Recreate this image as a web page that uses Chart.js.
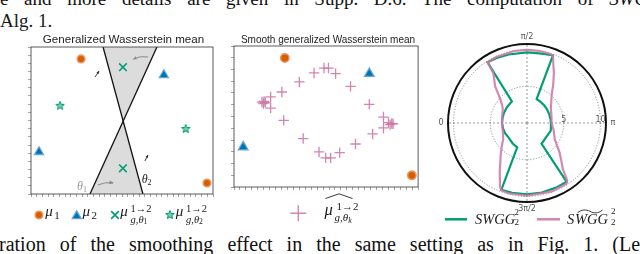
<!DOCTYPE html>
<html><head><meta charset="utf-8">
<script src="https://cdn.jsdelivr.net/npm/chart.js@4.4.1/dist/chart.umd.min.js"></script>
<style>
html,body{margin:0;padding:0;background:#fff;}
body{width:640px;height:254px;position:relative;overflow:hidden;}
.abs{position:absolute;white-space:nowrap;color:#1a1a1a;}
canvas{position:absolute;}
.just{position:absolute;font-family:'Liberation Serif','Times New Roman',serif;color:#111;text-align:justify;text-align-last:justify;white-space:normal;overflow:hidden;}
</style></head><body>
<canvas id="c1" width="200" height="190" style="left:20px;top:40px"></canvas>
<canvas id="c2" width="205" height="192" style="left:220px;top:38px"></canvas>
<canvas id="c3" width="200" height="200" style="left:427px;top:23px"></canvas>
<script>
// ================= DATA =================
// Panel 1 (data units: x 0-100, y 0-80)
const mu1A = [{x:27.5,y:73.5},{x:96.7,y:6.0}];
const mu2A = [{x:73.0,y:64.8},{x:4.4,y:22.9}];
const muTheta1 = [{x:50.5,y:69.0},{x:50.5,y:14.0}];
const muTheta2 = [{x:16.0,y:48.0},{x:85.0,y:35.4}];
const lineTheta1 = [{x:32.4,y:0},{x:69.2,y:80}];
const lineTheta2 = [{x:39.6,y:80},{x:61.5,y:0}];
const coneTop = [{x:39.6,y:80},{x:69.2,y:80},{x:50.6,y:40}];
const coneBottom = [{x:32.4,y:0},{x:61.5,y:0},{x:50.6,y:40}];
const rotArrows = [{from:{x:64.3,y:74.6},to:{x:56.0,y:73.4}},{from:{x:36.8,y:4.9},to:{x:45.0,y:6.0}}];
const dirMarks = [{from:{x:35.2,y:63.7},to:{x:37.4,y:66.9}},{from:{x:62.6,y:18.0},to:{x:64.3,y:21.2}}];
const thetaLabels = [{x:25.3,y:2.2,sub:'1',color:'#9a9a9a'},{x:60.8,y:6.0,sub:'2',color:'#222'}];

// Panel 2 (data units: x 0-100, y 0-80)
const mu1B = [{x:27.6,y:73.2},{x:96.6,y:6.6}];
const mu2B = [{x:73.5,y:64.3},{x:5.0,y:22.7}];
const smoothMeans = [
 {x:48.9,y:67.5},{x:51.3,y:67.5},{x:43.5,y:64.7},{x:55.2,y:64.3},{x:35.5,y:59.6},{x:63.3,y:57.1},
 {x:26.0,y:53.9},{x:19.9,y:51.1},{x:16.3,y:48.6},{x:17.0,y:47.9},{x:15.2,y:48.2},{x:16.0,y:47.3},
 {x:19.9,y:44.8},{x:73.5,y:46.9},{x:81.2,y:39.7},{x:83.9,y:36.5},{x:85.7,y:36.0},{x:84.8,y:35.4},
 {x:86.4,y:35.8},{x:81.2,y:33.5},{x:27.0,y:37.8},{x:75.3,y:30.1},{x:37.6,y:27.5},{x:66.0,y:24.4},
 {x:46.2,y:19.9},{x:57.4,y:19.5},{x:49.8,y:16.5},{x:52.5,y:16.5}
];

// Panel 3 (polar, angle in degrees, radius)
const polarTicks = [0,5,10,10.75];
const angleTickLabels = [[0,'0'],[90,'π/2'],[180,'π'],[270,'3π/2']];
const radialTickLabels = [5,10];
const swggDeg = [0,12,24,36,46,55,57,65,75,90,100,105,111,112,122,134,146,158,170,180,190,198,215,235,236,245,258,270,282,291,292,305,323,335,347];
const swggVal = [3.4,3.4,3.42,3.47,3.5,3.58,9.85,9.75,9.65,9.6,9.62,9.7,9.85,3.5,3.42,3.35,3.3,3.25,3.25,3.25,3.3,3.4,3.25,3.46,9.65,9.65,9.68,9.7,9.7,9.72,3.57,3.4,3.2,3.3,3.35];
const smoothDeg = [0,15,30,36,42,49,53,56,57,65,80,90,100,108,111,114,118,124,132,140,150,165,180,195,210,222,228,232,235,237,250,270,285,291,293,299,309,318,326,340,352];
const smoothVal = [3.4,3.5,3.8,4.2,4.9,6.6,7.4,8.2,9.85,9.9,9.95,9.95,9.95,9.9,9.85,8.8,7.8,6.4,5.0,4.3,3.75,3.45,3.35,3.75,4.35,5.95,7.0,7.9,9.5,9.85,9.9,9.9,9.9,9.8,9.4,7.65,5.7,4.6,3.9,3.5,3.4];

// ================= STYLE =================
const C = {orange:'#D55E00', orangeEdge:'rgba(238,150,95,0.95)', blue:'#0072B2', blueEdge:'rgba(95,165,215,0.95)', green:'#009E73', pink:'#CC79A7'};
const SERIF = "'Liberation Serif','Times New Roman',serif";
const SANS = "'Liberation Sans',Arial,sans-serif";

function makeStar(size){
  const c=document.createElement('canvas'); c.width=c.height=size;
  const g=c.getContext('2d'); g.beginPath();
  for(let i=0;i<10;i++){const a=-Math.PI/2+i*Math.PI/5;const rr=i%2?size*0.19:size*0.45;g.lineTo(size/2+rr*Math.cos(a),size/2+rr*Math.sin(a));}
  g.closePath(); g.fillStyle='rgba(90,195,160,0.85)'; g.fill(); g.strokeStyle=C.green; g.lineWidth=1; g.stroke();
  return c;
}
const star = makeStar(10);

const range = (n, step) => Array.from({length:n+1},(_,i)=>i*step);
function axisOpts(max, ticks){
  return {type:'linear', min:0, max:max,
    afterBuildTicks:s=>{s.ticks=ticks.map(v=>({value:v}));},
    ticks:{display:false},
    grid:{display:true, drawOnChartArea:false, drawTicks:true, tickLength:3, color:'#666', lineWidth:0.6},
    border:{display:false}};
}
const boxPlugin = {id:'box', afterDraw(chart){const {ctx,chartArea:a}=chart;ctx.save();ctx.strokeStyle='#333';ctx.lineWidth=0.8;ctx.strokeRect(a.left,a.top,a.right-a.left,a.bottom-a.top);ctx.restore();}};
function drawMarker(ctx,it){
  ctx.save(); ctx.fillStyle=it.fill||'rgba(0,0,0,0)'; ctx.strokeStyle=it.stroke||'rgba(0,0,0,0)'; ctx.lineWidth=it.bw||1;
  if (Chart.helpers && Chart.helpers.drawPoint) Chart.helpers.drawPoint(ctx,{pointStyle:it.style,radius:it.r,borderWidth:it.bw||0,rotation:0},it.x,it.y);
  ctx.restore();
}
function legendMarkers(items){return {id:'lm', afterDraw(chart){items.forEach(it=>drawMarker(chart.ctx,it));}};}
const baseOpts = {animation:false, responsive:false, events:[], plugins:{legend:{display:false},tooltip:{enabled:false}}};

// ---------- Panel 1 ----------
const p1Decor = {id:'p1Decor', afterDatasetsDraw(chart){
  const {ctx,scales:{x,y}}=chart; ctx.save();
  ctx.strokeStyle='#8a8a8a'; ctx.fillStyle='#8a8a8a'; ctx.lineWidth=1;
  rotArrows.forEach(a=>{
    const x0=x.getPixelForValue(a.from.x),y0=y.getPixelForValue(a.from.y),x1=x.getPixelForValue(a.to.x),y1=y.getPixelForValue(a.to.y);
    const mx=(x0+x1)/2,my=(y0+y1)/2-2.5;
    ctx.beginPath();ctx.moveTo(x0,y0);ctx.quadraticCurveTo(mx,my,x1,y1);ctx.stroke();
    const ang=Math.atan2(y1-my,x1-mx);
    ctx.beginPath();ctx.moveTo(x1+1,y1);ctx.lineTo(x1-4*Math.cos(ang-0.5),y1-4*Math.sin(ang-0.5));ctx.lineTo(x1-4*Math.cos(ang+0.5),y1-4*Math.sin(ang+0.5));ctx.closePath();ctx.fill();
  });
  ctx.strokeStyle='#222'; ctx.fillStyle='#222'; ctx.lineWidth=0.9;
  dirMarks.forEach(a=>{
    const x0=x.getPixelForValue(a.from.x),y0=y.getPixelForValue(a.from.y),x1=x.getPixelForValue(a.to.x),y1=y.getPixelForValue(a.to.y);
    ctx.beginPath();ctx.moveTo(x0,y0);ctx.lineTo(x1,y1);ctx.stroke();
    const ang=Math.atan2(y1-y0,x1-x0);
    ctx.beginPath();ctx.moveTo(x1,y1);ctx.lineTo(x1-3*Math.cos(ang-0.45),y1-3*Math.sin(ang-0.45));ctx.lineTo(x1-3*Math.cos(ang+0.45),y1-3*Math.sin(ang+0.45));ctx.closePath();ctx.fill();
  });
  thetaLabels.forEach(t=>{
    const px=x.getPixelForValue(t.x),py=y.getPixelForValue(t.y);
    ctx.fillStyle=t.color; ctx.textBaseline='alphabetic'; ctx.textAlign='left';
    ctx.font='italic 12px '+SERIF; ctx.fillText('θ',px,py);
    const w=ctx.measureText('θ').width;
    ctx.font='8px '+SERIF; ctx.fillText(t.sub,px+w,py+2);
  });
  ctx.restore();
}};
new Chart(document.getElementById('c1'),{
  type:'scatter',
  data:{datasets:[
    {type:'scatter',data:mu1A,pointStyle:'circle',pointRadius:3.8,pointBackgroundColor:C.orange,pointBorderColor:C.orangeEdge,pointBorderWidth:1.6,order:1},
    {type:'scatter',data:mu2A,pointStyle:'triangle',pointRadius:5.2,pointBackgroundColor:C.blue,pointBorderColor:C.blueEdge,pointBorderWidth:1.3,order:1},
    {type:'scatter',data:muTheta1,pointStyle:'crossRot',pointRadius:5.4,pointBorderColor:C.green,pointBorderWidth:1.6,order:1},
    {type:'scatter',data:muTheta2,pointStyle:star,pointRadius:5,order:1},
    {type:'line',data:lineTheta1,borderColor:'#111',borderWidth:1.3,pointRadius:0,fill:false,order:5},
    {type:'line',data:lineTheta2,borderColor:'#111',borderWidth:1.3,pointRadius:0,fill:false,order:5},
    {type:'line',data:coneTop,borderColor:'rgba(0,0,0,0)',borderWidth:0,backgroundColor:'#dcdcdc',fill:'shape',pointRadius:0,order:10},
    {type:'line',data:coneBottom,borderColor:'rgba(0,0,0,0)',borderWidth:0,backgroundColor:'#dcdcdc',fill:'shape',pointRadius:0,order:10}
  ]},
  options:Object.assign({},baseOpts,{layout:{padding:{left:8,top:7,right:7,bottom:33}},
    scales:{x:axisOpts(100,range(32,100/32)),y:axisOpts(80,range(18,80/18))}}),
  plugins:[p1Decor,boxPlugin,legendMarkers([
    {style:'circle',r:3.8,fill:C.orange,stroke:C.orangeEdge,bw:1.6,x:19,y:175},
    {style:'triangle',r:5.2,fill:C.blue,stroke:C.blueEdge,bw:1.3,x:56.7,y:176},
    {style:'crossRot',r:5.4,stroke:C.green,bw:1.6,x:95,y:175},
    {style:star,r:5,x:150,y:175}
  ])]
});

// ---------- Panel 2 ----------
new Chart(document.getElementById('c2'),{
  type:'scatter',
  data:{datasets:[
    {data:mu1B,pointStyle:'circle',pointRadius:4.2,pointBackgroundColor:C.orange,pointBorderColor:C.orangeEdge,pointBorderWidth:1.6,order:1},
    {data:mu2B,pointStyle:'triangle',pointRadius:5.6,pointBackgroundColor:C.blue,pointBorderColor:C.blueEdge,pointBorderWidth:1.3,order:1},
    {data:smoothMeans,pointStyle:'cross',pointRadius:5.2,pointBorderColor:'rgba(204,121,167,0.9)',pointBorderWidth:1.3,order:2}
  ]},
  options:Object.assign({},baseOpts,{layout:{padding:{left:11,top:8,right:5,bottom:40}},
    scales:{x:axisOpts(100,range(31,100/31)),y:axisOpts(80,range(12,80/12))}}),
  plugins:[boxPlugin,legendMarkers([{style:'cross',r:8,stroke:'rgba(204,121,167,0.9)',bw:1.4,x:78.3,y:175.3}])]
});

// ---------- Panel 3 (polar) ----------
const polarLabels = Array.from({length:360},(_,i)=>i);
function toSeries(deg,val){const a=new Array(360).fill(null);deg.forEach((d,i)=>{a[d]=val[i];});return a;}
const polarDecor = {id:'polarDecor', afterDraw(chart){
  const ctx=chart.ctx, r=chart.scales.r; ctx.save();
  ctx.fillStyle='#555'; ctx.font='8px "DejaVu Sans"'; ctx.textAlign='center'; ctx.textBaseline='middle';
  angleTickLabels.forEach(([i,t])=>{const p=r.getPointPosition(i,r.drawingArea+7);ctx.fillText(t,p.x,p.y);});
  ctx.textBaseline='bottom';
  radialTickLabels.forEach(v=>{const p=r.getPointPositionForValue(180,v);ctx.fillText(String(v),p.x,p.y+1);});
  ctx.lineWidth=2.5; ctx.lineCap='butt';
  ctx.strokeStyle=C.green; ctx.beginPath(); ctx.moveTo(18,196.3); ctx.lineTo(40,196.3); ctx.stroke();
  ctx.strokeStyle='rgba(204,121,167,0.9)'; ctx.beginPath(); ctx.moveTo(110,196.3); ctx.lineTo(133,196.3); ctx.stroke();
  ctx.restore();
}};
new Chart(document.getElementById('c3'),{
  type:'radar',
  data:{labels:polarLabels,datasets:[
    {label:'smooth',data:toSeries(smoothDeg,smoothVal),borderColor:'rgba(204,121,167,0.88)',borderWidth:2.2,pointRadius:0,fill:false,spanGaps:true,order:1},
    {label:'SWGG',data:toSeries(swggDeg,swggVal),borderColor:C.green,borderWidth:2.2,pointRadius:0,fill:false,spanGaps:true,order:2}
  ]},
  options:Object.assign({},baseOpts,{layout:{padding:21},
    elements:{line:{tension:0,borderJoinStyle:'miter'}},
    scales:{r:{min:0,max:10.75,startAngle:-90,
      afterBuildTicks:s=>{s.ticks=polarTicks.map(v=>({value:v}));},
      ticks:{display:false},
      pointLabels:{display:false},
      grid:{circular:true,color:c=>c.tick&&c.tick.value>10.5?'#111':'#555',lineWidth:c=>c.tick&&c.tick.value>10.5?2:0.6},
      border:{dash:c=>c.tick&&c.tick.value>10.5?[]:[1.2,1.6]},
      angleLines:{display:true,color:c=>c.index%90===0?'#555':'rgba(0,0,0,0)',lineWidth:c=>c.index%90===0?0.6:0,borderDash:[2,2]}
    }}}),
  plugins:[polarDecor]
});

// ================= TEXT =================
function T(html,x,base,size,opt={}){
  const d=document.createElement('div');d.className='abs';
  d.style.fontFamily=opt.sans?SANS:SERIF;d.style.fontSize=size+'px';d.style.lineHeight=size+'px';
  d.style.top=(base-(opt.sans?0.8465:0.8375)*size)+'px';
  d.style.fontStyle=opt.italic?'italic':'normal';d.style.left=x+'px';
  if(opt.center)d.style.transform='translateX(-50%)';
  if(opt.color)d.style.color=opt.color;
  d.innerHTML=html;document.body.appendChild(d);return d;
}
function J(html,x,base,size,width){
  const d=document.createElement('div');d.className='just';
  d.style.left=x+'px';d.style.top=(base-0.8375*size)+'px';d.style.fontSize=size+'px';d.style.lineHeight=size+'px';
  d.style.width=width+'px';d.style.height=Math.round(size*1.3)+'px';d.innerHTML=html;document.body.appendChild(d);
}
function S(svg,x,y,w,h){const d=document.createElement('div');d.className='abs';d.style.left=x+'px';d.style.top=y+'px';d.style.lineHeight='0';
  d.innerHTML='<svg width="'+w+'" height="'+h+'" viewBox="0 0 '+w+' '+h+'">'+svg+'</svg>';document.body.appendChild(d);}

J('e and more details are given in Supp. D.6. The computation of <i>SWGG</i>',0,4.7,19,662);
T('Alg. 1.',0,27.3,19);
J('ration of the smoothing effect in the same setting as in Fig. 1. (Left)',-1,251,20,660);

T('Generalized Wasserstein mean',123.5,43.3,11.6,{sans:true,center:true,color:'#222'});
T('Smooth generalized Wasserstein mean',328,43.3,10,{sans:true,center:true,color:'#222'});

const subk = t => '<span style="font-size:0.72em;font-style:normal;position:relative;top:1.5px">'+t+'</span>';
T('μ',45.3,217,15,{italic:true}); T('1',54.3,219.6,11);
T('μ',82.5,217,15,{italic:true}); T('2',91.5,219.6,11);
T('μ',120.3,217,15,{italic:true}); T('1→2',130.5,212.3,10.5); T('g,θ'+subk('1'),130.5,223.5,10.5,{italic:true});
T('μ',175.8,217,15,{italic:true}); T('1→2',186,212.3,10.5); T('g,θ'+subk('2'),186,223.5,10.5,{italic:true});

S('<polyline points="0.5,5.5 14,0.8 27.5,5.5" fill="none" stroke="#222" stroke-width="0.9"/>',325,192.5,28,6);
T('μ',324.5,215.5,16.5,{italic:true}); T('1→2',336.5,210.5,11); T('g,θ<span style="font-size:0.72em;position:relative;top:1.5px">k</span>',334.5,221.3,11,{italic:true});

T('SWGG',475,224,14.5,{italic:true}); T('2',514.5,215.8,9); T('2',514.5,226,9);
T('S',567,224,14.5,{italic:true}); T('WGG',575,224,14.5,{italic:true});
S('<path d="M0.5,3.8 C5,0.3 9,0.3 13,2.4 S21,4.6 25.5,1" fill="none" stroke="#222" stroke-width="0.9"/>',576.5,208.5,26,5);
T('2',611,215,9); T('2',611,226,9);
</script></body></html>
